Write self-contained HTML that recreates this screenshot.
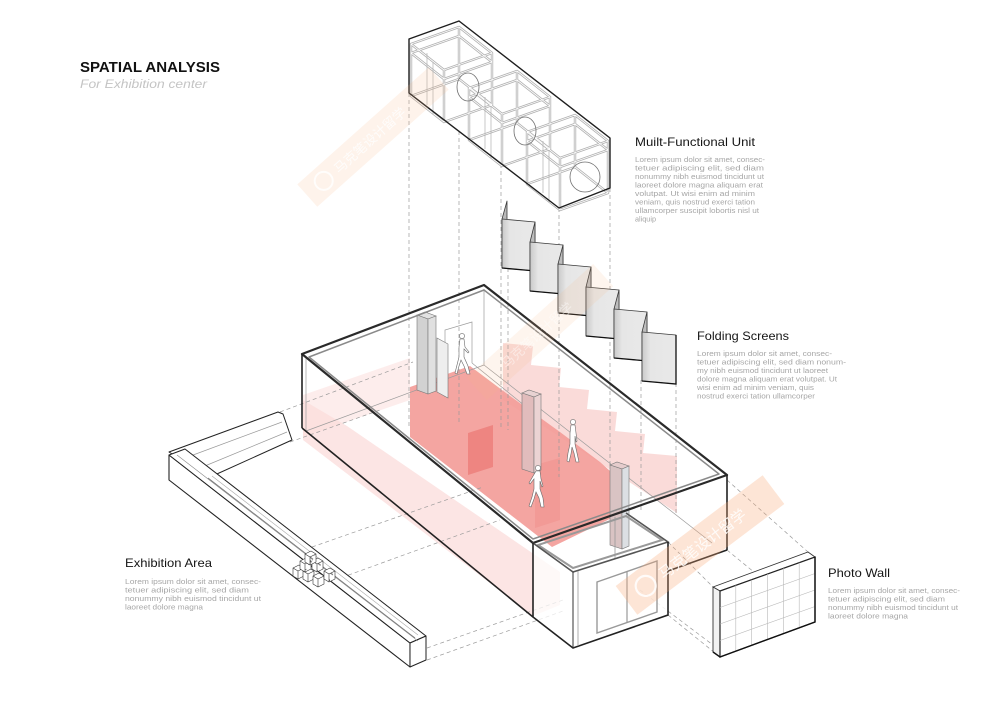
<!DOCTYPE html>
<html><head><meta charset="utf-8">
<style>
html,body{margin:0;padding:0;background:#fff;}
svg{display:block;}
text{font-family:"Liberation Sans","Noto Sans CJK SC",sans-serif;}
.d{stroke:#9a9a9a;stroke-width:0.7;stroke-dasharray:4 3;fill:none;}
.b{fill:#a6a6a6;font-size:7px;}
.t{fill:#151515;font-size:12px;}
</style></head><body>
<svg width="1000" height="707" viewBox="0 0 1000 707" xmlns="http://www.w3.org/2000/svg">
<defs>
<linearGradient id="pg" x1="0" y1="0" x2="1" y2="0">
<stop offset="0" stop-color="#c9c9c9"/><stop offset="0.25" stop-color="#e6e6e6"/><stop offset="1" stop-color="#e9e9e9"/>
</linearGradient>
</defs>
<rect width="1000" height="707" fill="#fff"/>

<!-- ===== Titles ===== -->
<text x="80" y="72" font-size="15" font-weight="bold" fill="#111" textLength="140" lengthAdjust="spacingAndGlyphs">SPATIAL ANALYSIS</text>
<text x="80" y="88" font-size="11.5" font-style="italic" fill="#c4c4c4" textLength="127" lengthAdjust="spacingAndGlyphs">For Exhibition center</text>

<text class="t" x="635" y="146" textLength="120" lengthAdjust="spacingAndGlyphs">Muilt-Functional Unit</text>
<text class="b" x="635" y="162" textLength="130" lengthAdjust="spacingAndGlyphs">Lorem ipsum dolor sit amet, consec-</text>
<text class="b" x="635" y="170.5" textLength="129" lengthAdjust="spacingAndGlyphs">tetuer adipiscing elit, sed diam</text>
<text class="b" x="635" y="179" textLength="129" lengthAdjust="spacingAndGlyphs">nonummy nibh euismod tincidunt ut</text>
<text class="b" x="635" y="187.5" textLength="128" lengthAdjust="spacingAndGlyphs">laoreet dolore magna aliquam erat</text>
<text class="b" x="635" y="196" textLength="120" lengthAdjust="spacingAndGlyphs">volutpat. Ut wisi enim ad minim</text>
<text class="b" x="635" y="204.5" textLength="120" lengthAdjust="spacingAndGlyphs">veniam, quis nostrud exerci tation</text>
<text class="b" x="635" y="213" textLength="124" lengthAdjust="spacingAndGlyphs">ullamcorper suscipit lobortis nisl ut</text>
<text class="b" x="635" y="221.5" textLength="21" lengthAdjust="spacingAndGlyphs">aliquip</text>

<text class="t" x="697" y="340" textLength="92" lengthAdjust="spacingAndGlyphs">Folding Screens</text>
<text class="b" x="697" y="356" textLength="135" lengthAdjust="spacingAndGlyphs">Lorem ipsum dolor sit amet, consec-</text>
<text class="b" x="697" y="364.5" textLength="149" lengthAdjust="spacingAndGlyphs">tetuer adipiscing elit, sed diam nonum-</text>
<text class="b" x="697" y="373" textLength="131" lengthAdjust="spacingAndGlyphs">my nibh euismod tincidunt ut laoreet</text>
<text class="b" x="697" y="381.5" textLength="140" lengthAdjust="spacingAndGlyphs">dolore magna aliquam erat volutpat. Ut</text>
<text class="b" x="697" y="390" textLength="117" lengthAdjust="spacingAndGlyphs">wisi enim ad minim veniam, quis</text>
<text class="b" x="697" y="398.5" textLength="118" lengthAdjust="spacingAndGlyphs">nostrud exerci tation ullamcorper</text>

<text class="t" x="828" y="577" textLength="62" lengthAdjust="spacingAndGlyphs">Photo Wall</text>
<text class="b" x="828" y="593" textLength="132" lengthAdjust="spacingAndGlyphs">Lorem ipsum dolor sit amet, consec-</text>
<text class="b" x="828" y="601.5" textLength="117" lengthAdjust="spacingAndGlyphs">tetuer adipiscing elit, sed diam</text>
<text class="b" x="828" y="610" textLength="130" lengthAdjust="spacingAndGlyphs">nonummy nibh euismod tincidunt ut</text>
<text class="b" x="828" y="618.5" textLength="80" lengthAdjust="spacingAndGlyphs">laoreet dolore magna</text>

<text class="t" x="125" y="567" textLength="87" lengthAdjust="spacingAndGlyphs">Exhibition Area</text>
<text class="b" x="125" y="584" textLength="136" lengthAdjust="spacingAndGlyphs">Lorem ipsum dolor sit amet, consec-</text>
<text class="b" x="125" y="592.5" textLength="124" lengthAdjust="spacingAndGlyphs">tetuer adipiscing elit, sed diam</text>
<text class="b" x="125" y="601" textLength="136" lengthAdjust="spacingAndGlyphs">nonummy nibh euismod tincidunt ut</text>
<text class="b" x="125" y="609.5" textLength="78" lengthAdjust="spacingAndGlyphs">laoreet dolore magna</text>

<!-- ===== Floor colour in main room ===== -->
<polygon points="303,395 410,358 410,400 303,437" fill="#fde8e7" opacity="0.8"/>
<polygon points="303,400 347,426 560,572 560,605 533,616 303,440" fill="#fbdcdb" opacity="0.75"/>
<polygon points="503,343 533,346 531,365 561,368 559,387 589,390 587,409 617,412 615,431 645,434 643,453 677,456 677,513 503,400" fill="#f9d2d0" opacity="0.8"/>
<polygon points="410,387 470,366 510,396 560,432 600,462 618,478 618,515 552,547 410,437" fill="#f39d99" opacity="0.92"/>
<polygon points="468,433 493,425 493,467 468,475" fill="#ec7f7b" opacity="0.85"/>
<polygon points="535,465 560,458 560,520 535,528" fill="#f08f8b" opacity="0.5"/>

<!-- ===== Dashed projection lines ===== -->
<line class="d" x1="409" y1="93" x2="409" y2="427"/>
<line class="d" x1="459" y1="131" x2="459" y2="423"/>
<line class="d" x1="501" y1="164" x2="501" y2="430"/>
<line class="d" x1="508" y1="268" x2="508" y2="430"/>
<line class="d" x1="559" y1="208" x2="559" y2="477"/>
<line class="d" x1="610" y1="188" x2="610" y2="467"/>
<line class="d" x1="641" y1="380" x2="641" y2="513"/>
<line class="d" x1="676" y1="383" x2="676" y2="513"/>
<line class="d" x1="280" y1="412" x2="413" y2="362"/>
<line class="d" x1="290" y1="442" x2="380" y2="410"/>
<line class="d" x1="312" y1="547" x2="483" y2="487"/>
<line class="d" x1="335" y1="580" x2="500" y2="520"/>
<line class="d" x1="427" y1="648" x2="563" y2="600"/>
<line class="d" x1="427" y1="660" x2="563" y2="611"/>
<line class="d" x1="727" y1="480" x2="808" y2="552"/>
<line class="d" x1="668" y1="542" x2="713" y2="587"/>
<line class="d" x1="727" y1="550" x2="815" y2="622"/>
<line class="d" x1="668" y1="615" x2="720" y2="657"/>
<line class="d" x1="640" y1="590" x2="713" y2="645"/>

<!-- ===== Main room interior lines ===== -->
<g stroke="#9c9c9c" stroke-width="0.7" fill="none">
<line x1="484" y1="289" x2="484" y2="365"/>
<line x1="484" y1="365" x2="712" y2="543"/>
<line x1="484" y1="365" x2="306" y2="431"/>
<line x1="306" y1="358" x2="306" y2="431"/>
<polyline points="445,397 445,330 472,322 472,363"/>
<line x1="472" y1="363" x2="530" y2="410"/>
</g>

<!-- column 1 + door panel -->
<polygon points="417,315 425,312 436,316 428,319" fill="#e2e2e2" stroke="#777" stroke-width="0.6"/>
<polygon points="417,315 428,319 428,394 417,390" fill="#d2d2d2" stroke="#777" stroke-width="0.6"/>
<polygon points="428,319 436,316 436,391 428,394" fill="#e0e0e0" stroke="#777" stroke-width="0.6"/>
<polygon points="437,338 448,344 448,398 437,392" fill="#eee" stroke="#777" stroke-width="0.6"/>
<!-- column 2 -->
<polygon points="522,393 529,390 541,394 534,397" fill="#e8d2d2" stroke="#777" stroke-width="0.6"/>
<polygon points="522,393 534,397 534,473 522,469" fill="#e1bcbc" stroke="#777" stroke-width="0.6"/>
<polygon points="534,397 541,394 541,470 534,473" fill="#ebd3d3" stroke="#777" stroke-width="0.6"/>
<!-- column 3 -->
<polygon points="610,465 617,462 629,466 622,469" fill="#e5cccc" stroke="#777" stroke-width="0.6"/>
<polygon points="610,465 622,469 622,549 610,545" fill="#d9c3c3" stroke="#777" stroke-width="0.6"/>
<polygon points="622,469 629,466 629,546 622,549" fill="#dcdfe3" stroke="#777" stroke-width="0.6"/>

<!-- persons -->
<g fill="#fff" stroke="#6a6a6a" stroke-width="0.6">
<g transform="translate(455,333)">
<circle cx="7" cy="3" r="2.6"/>
<path d="M5,6 L9,6 L10,14 L14,19 L13,20 L9,16 L9,24 L13,33 L15,41 L12,41 L9,33 L6,27 L4,33 L2,41 L0,40 L2,32 L4,24 L4,14 Z"/>
</g>
<g transform="translate(566,419)">
<circle cx="7" cy="3" r="2.6"/>
<path d="M5,6 L9,6 L10,14 L11,22 L10,23 L9,17 L9,25 L11,34 L13,43 L10,43 L8,34 L6,28 L5,35 L3,43 L1,42 L2,34 L4,25 L4,14 Z"/>
</g>
<g transform="translate(529,465)">
<circle cx="9" cy="3" r="2.6"/>
<path d="M7,6 L11,6 L12,14 L14,21 L13,22 L11,16 L11,24 L14,33 L15,42 L12,42 L10,33 L7,27 L5,34 L2,42 L0,41 L3,32 L5,24 L5,14 L1,19 L0,18 Z"/>
</g>
</g>

<!-- ===== Main room shell ===== -->
<g fill="none" stroke-linejoin="round">
<polygon points="309,357 484,290 719,474 533,539" stroke="#8a8a8a" stroke-width="1.5"/>
<polyline points="533,543 302,354 484,285 727,475 533,543" stroke="#2a2a2a" stroke-width="2.2"/>
<line x1="302" y1="354" x2="302" y2="428" stroke="#222" stroke-width="1.6"/>
<line x1="302" y1="428" x2="533" y2="617" stroke="#222" stroke-width="1.6"/>
<line x1="727" y1="475" x2="727" y2="550" stroke="#222" stroke-width="1.6"/>
<line x1="727" y1="550" x2="668" y2="571" stroke="#222" stroke-width="1.6"/>
</g>

<!-- annex -->
<polygon points="533,543 573,572 573,648 533,617" fill="#fff" fill-opacity="0.75" stroke="#777" stroke-width="0.6"/>
<polygon points="573,572 668,542 668,615 573,648" fill="#fff" fill-opacity="0.85" stroke="#777" stroke-width="0.6"/>
<polygon points="597,582 657,561 657,612 597,633" fill="none" stroke="#999" stroke-width="1.4"/>
<line x1="627" y1="572" x2="627" y2="622" stroke="#999" stroke-width="1.2"/>
<polygon points="538,545 573,568 662,540 626,516" fill="none" stroke="#999" stroke-width="2"/>
<polyline points="533,543 573,572 668,542 626,513" fill="none" stroke="#555" stroke-width="1.6"/>
<polyline points="533,543 533,617 573,648 668,615 668,542" fill="none" stroke="#222" stroke-width="1.6"/>
<line x1="573" y1="572" x2="573" y2="648" stroke="#333" stroke-width="1"/>
<line x1="578" y1="571" x2="578" y2="646" stroke="#999" stroke-width="0.8"/>
<line x1="615" y1="517" x2="615" y2="558" stroke="#999" stroke-width="0.8"/>

<!-- ===== Top box: multi-functional unit ===== -->
<g fill="none" stroke-linejoin="round">
<g stroke="#b0b0b0" stroke-width="2.4">
<path id="c0" d="M411,44 L459,27 L492,53 L444,70 Z M411,96 L459,79 L492,105 L444,122 Z M411,44 V96 M459,27 V79 M492,53 V105 M444,70 V122 M411,53 L459,36 L492,62 L444,79 Z"/>
<path id="c1" d="M469,88 L517,71 L550,97 L502,114 Z M469,140 L517,123 L550,149 L502,166 Z M469,88 V140 M517,71 V123 M550,97 V149 M502,114 V166 M469,97 L517,80 L550,106 L502,123 Z"/>
<path id="c2" d="M527,132 L575,115 L608,141 L560,158 Z M527,184 L575,167 L608,193 L560,210 Z M527,132 V184 M575,115 V167 M608,141 V193 M560,158 V210 M527,141 L575,124 L608,150 L560,167 Z"/>
</g>
<g stroke="#fff" stroke-width="0.8">
<use href="#c0"/><use href="#c1"/><use href="#c2"/>
</g>
<g stroke="#b0b0b0" stroke-width="0.7">
<line x1="427" y1="53" x2="427" y2="105"/><line x1="433" y1="62" x2="433" y2="114"/>
<line x1="485" y1="97" x2="485" y2="149"/><line x1="491" y1="106" x2="491" y2="158"/>
<line x1="543" y1="141" x2="543" y2="193"/><line x1="549" y1="150" x2="549" y2="202"/>
</g>
<g stroke="#707070" stroke-width="0.8">
<ellipse cx="468" cy="87" rx="11" ry="14"/>
<ellipse cx="525" cy="131" rx="11" ry="14"/>
<ellipse cx="585" cy="177" rx="15" ry="15"/>
</g>
<polygon points="409,39 459,21 610,138 610,188 559,208 409,93" stroke="#1e1e1e" stroke-width="1.4"/>
</g>

<!-- ===== Folding screens ===== -->
<g stroke="#3a3a3a" stroke-width="0.8" stroke-linejoin="round">
<polygon points="507,201 502,219 502,268 507,250" fill="#b9b9b9"/>
<polygon points="502,219 535,222 535,271 502,268" fill="url(#pg)"/>
<polygon points="535,222 530,242 530,291 535,271" fill="#bdbdbd"/>
<polygon points="530,242 563,245 563,294 530,291" fill="url(#pg)"/>
<polygon points="563,245 558,264 558,313 563,294" fill="#bdbdbd"/>
<polygon points="558,264 591,267 591,316 558,313" fill="url(#pg)"/>
<polygon points="591,267 586,287 586,336 591,316" fill="#bdbdbd"/>
<polygon points="586,287 619,290 619,339 586,336" fill="url(#pg)"/>
<polygon points="619,290 614,309 614,358 619,339" fill="#bdbdbd"/>
<polygon points="614,309 647,312 647,361 614,358" fill="url(#pg)"/>
<polygon points="647,312 642,332 642,381 647,361" fill="#bdbdbd"/>
<polygon points="642,332 676,335 676,384 642,381" fill="url(#pg)"/>
</g>
<g stroke="#111" stroke-width="1.3" fill="none">
<path d="M502,268 L530,270.5 M530,291 L558,293.5 M558,313 L586,315.5 M586,336 L614,338.5 M614,358 L642,360.5 M642,381 L676,384 V335"/>
</g>

<!-- ===== Photo wall ===== -->
<polygon points="713,587 808,552 815,557 720,591" fill="#fff" stroke="#333" stroke-width="0.9"/>
<polygon points="713,587 720,591 720,657 713,652" fill="#f2f2f2" stroke="#333" stroke-width="0.9"/>
<polygon points="720,591 815,557 815,622 720,657" fill="#fff" stroke="#222" stroke-width="1.2"/>
<g stroke="#b8b8b8" stroke-width="0.6">
<line x1="735.8" y1="585.3" x2="735.8" y2="651.3"/>
<line x1="751.7" y1="579.7" x2="751.7" y2="645.7"/>
<line x1="767.5" y1="574" x2="767.5" y2="640"/>
<line x1="783.3" y1="568.3" x2="783.3" y2="634.3"/>
<line x1="799.2" y1="562.7" x2="799.2" y2="628.7"/>
<line x1="720" y1="607.5" x2="815" y2="573.5"/>
<line x1="720" y1="624" x2="815" y2="590"/>
<line x1="720" y1="640.5" x2="815" y2="606.5"/>
</g>
<polyline points="713,652 720,657 815,622 815,557" fill="none" stroke="#111" stroke-width="1.4"/>

<!-- ===== Exhibition ledge ===== -->
<g stroke-linejoin="round">
<polygon points="169,452 278,412 283,414 292,440 208,478 185,462" fill="#fff" stroke="#222" stroke-width="1"/>
<line x1="185" y1="458" x2="282" y2="422" stroke="#999" stroke-width="0.7"/>
<line x1="200" y1="468" x2="287" y2="432" stroke="#999" stroke-width="0.7"/>
<polygon points="169,455 410,643 410,667 169,480" fill="#fff" stroke="#222" stroke-width="1.1"/>
<polygon points="169,455 185,449 426,636 410,643" fill="#fff" stroke="#222" stroke-width="1"/>
<polygon points="410,643 426,636 426,660 410,667" fill="#fff" stroke="#222" stroke-width="1"/>
<line x1="177" y1="455" x2="418" y2="641" stroke="#888" stroke-width="0.6"/>
<line x1="208" y1="478" x2="415" y2="638" stroke="#777" stroke-width="0.8"/>
<line x1="212" y1="476" x2="418" y2="635" stroke="#aaa" stroke-width="0.6"/>
</g>
<!-- cubes -->
<g fill="#fff" stroke="#333" stroke-width="0.6" stroke-linejoin="round">
<g transform="translate(293,565)"><path d="M0,3 L6,0 L11,3 L5,6 Z M0,3 V11 L5,14 V6 M5,14 L11,11 V3"/></g>
<g transform="translate(303,568)"><path d="M0,3 L6,0 L11,3 L5,6 Z M0,3 V11 L5,14 V6 M5,14 L11,11 V3"/></g>
<g transform="translate(313,573)"><path d="M0,3 L6,0 L11,3 L5,6 Z M0,3 V11 L5,14 V6 M5,14 L11,11 V3"/></g>
<g transform="translate(300,558)"><path d="M0,3 L6,0 L11,3 L5,6 Z M0,3 V11 L5,14 V6 M5,14 L11,11 V3"/></g>
<g transform="translate(312,558)"><path d="M0,3 L6,0 L11,3 L5,6 Z M0,3 V11 L5,14 V6 M5,14 L11,11 V3"/></g>
<g transform="translate(305,551)"><path d="M0,3 L6,0 L11,3 L5,6 Z M0,3 V11 L5,14 V6 M5,14 L11,11 V3"/></g>
<g transform="translate(324,568)"><path d="M0,3 L6,0 L11,3 L5,6 Z M0,3 V11 L5,14 V6 M5,14 L11,11 V3"/></g>
</g>

<!-- ===== Watermarks ===== -->
<g transform="translate(373,137) rotate(-41.7)">
<rect x="-88" y="-15" width="176" height="30" fill="#f9b58a" opacity="0.17"/>
<circle cx="-66" cy="0" r="9" fill="none" stroke="#fff" stroke-width="2" opacity="0.8"/>
<text x="-50" y="5" font-size="13" fill="#fff" opacity="0.8">马克笔设计留学</text>
</g>
<g transform="translate(540,332) rotate(-42)">
<rect x="-85" y="-15" width="170" height="30" fill="#f9b58a" opacity="0.14"/>
<text x="-50" y="5" font-size="13" fill="#fff" opacity="0.45">马克笔设计留学</text>
</g>
<g transform="translate(700,545) rotate(-37)">
<rect x="-92" y="-18" width="184" height="36" fill="#f7a877" opacity="0.3"/>
<circle cx="-68" cy="0" r="10" fill="none" stroke="#fff" stroke-width="2.2" opacity="0.85"/>
<text x="-50" y="6" font-size="15" fill="#fff" opacity="0.85">马克笔设计留学</text>
</g>
</svg>
</body></html>
